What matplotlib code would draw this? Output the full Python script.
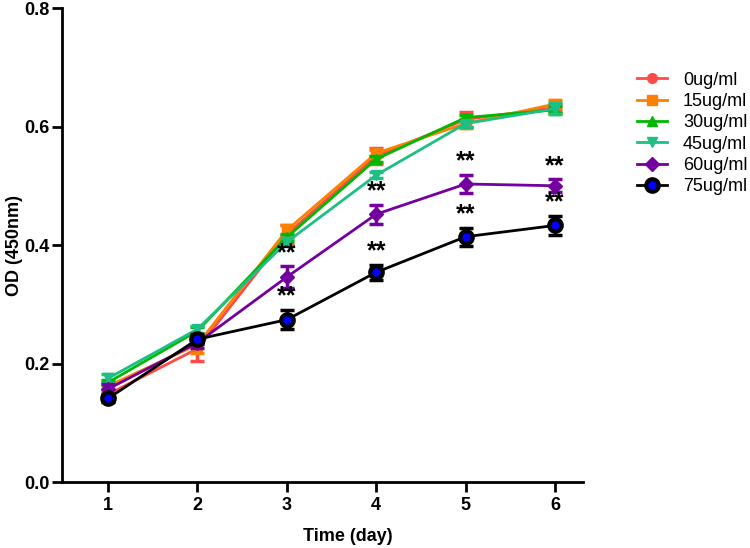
import matplotlib.pyplot as plt

plt.rcParams['font.family'] = ['Liberation Sans', 'DejaVu Sans']

days = [1, 2, 3, 4, 5, 6]
labels = ['0ug/ml', '15ug/ml', '30ug/ml', '45ug/ml', '60ug/ml', '75ug/ml']

# mean OD values
od_0 = [0.148, 0.225, 0.418, 0.550, 0.612, 0.632]
od_15 = [0.162, 0.232, 0.425, 0.555, 0.605, 0.638]
od_30 = [0.168, 0.255, 0.413, 0.545, 0.615, 0.628]
od_45 = [0.175, 0.258, 0.405, 0.518, 0.605, 0.630]
od_60 = [0.157, 0.235, 0.346, 0.452, 0.503, 0.500]
od_75 = [0.141, 0.241, 0.274, 0.354, 0.414, 0.433]

# error bars (SD)
err_0 = [0.006, 0.020, 0.016, 0.014, 0.013, 0.006]
err_15 = [0.006, 0.014, 0.008, 0.005, 0.008, 0.006]
err_30 = [0.005, 0.006, 0.006, 0.005, 0.005, 0.006]
err_45 = [0.008, 0.006, 0.006, 0.005, 0.005, 0.009]
err_60 = [0.008, 0.008, 0.018, 0.016, 0.016, 0.011]
err_75 = [0.006, 0.008, 0.016, 0.013, 0.015, 0.016]

# which points of 60 / 75 ug/ml get "**"
star_days_60 = [3, 4, 5, 6]
star_days_75 = [3, 4, 5, 6]

series = [
    (od_0, err_0, '#FF4A46', 'o', '#FF4A46', 7),
    (od_15, err_15, '#FF8000', 's', '#FF8000', 7),
    (od_30, err_30, '#00B800', '^', '#00B800', 7),
    (od_45, err_45, '#1DBF84', 'v', '#1DBF84', 7),
    (od_60, err_60, '#7400A0', 'D', '#7400A0', 7),
    (od_75, err_75, '#000000', 'o', '#0000FF', 9),
]

fig = plt.figure(figsize=(7.5, 5.48), dpi=100)
ax = fig.add_axes([0.0827, 0.1204, 0.777 - 0.0827, 0.9854 - 0.1204])

for (y, e, c, m, fc, ms), lab in zip(series, labels):
    ax.errorbar(days, y, yerr=e, color=c, fmt='none',
                elinewidth=2.5, capsize=5, capthick=2.5)
    ax.plot(days, y, color=c, marker=m, markerfacecolor=fc,
            markeredgecolor=c, markersize=ms,
            markeredgewidth=3 if fc != c else 1,
            linewidth=2, label=lab)

for d in star_days_60:
    i = days.index(d)
    ax.annotate('**', (d, od_60[i] + err_60[i]), xytext=(0, 1),
                textcoords='offset points', ha='center', va='bottom',
                fontsize=18, fontweight='bold')
for d in star_days_75:
    i = days.index(d)
    ax.annotate('**', (d, od_75[i] + err_75[i]), xytext=(0, 1),
                textcoords='offset points', ha='center', va='bottom',
                fontsize=18, fontweight='bold')

ax.set_xlim(0.485, 6.31)
ax.set_ylim(0, 0.8)
ax.set_xticks(days)
ax.set_yticks([0.0, 0.2, 0.4, 0.6, 0.8])
ax.set_yticklabels(['0.0', '0.2', '0.4', '0.6', '0.8'])

for s in ['top', 'right']:
    ax.spines[s].set_visible(False)
for s in ['left', 'bottom']:
    ax.spines[s].set_linewidth(2)
ax.tick_params(width=2, length=7, labelsize=13)
ax.tick_params(axis='y', pad=2)
ax.tick_params(axis='x', pad=4)
for t in ax.get_xticklabels() + ax.get_yticklabels():
    t.set_fontweight('bold')

ax.set_xlabel('Time (day)', fontsize=13, fontweight='bold', va='top')
ax.xaxis.set_label_coords(0.549, -0.097)
ax.set_ylabel('OD (450nm)', fontsize=13, fontweight='bold')
ax.yaxis.set_label_coords(-0.075, 0.5)

leg = ax.legend(loc='upper left', bbox_to_anchor=(1.073, 0.9), frameon=False,
                fontsize=13, handlelength=1.65, labelspacing=0.24,
                handletextpad=0.9)

plt.savefig('out.png', dpi=100)
